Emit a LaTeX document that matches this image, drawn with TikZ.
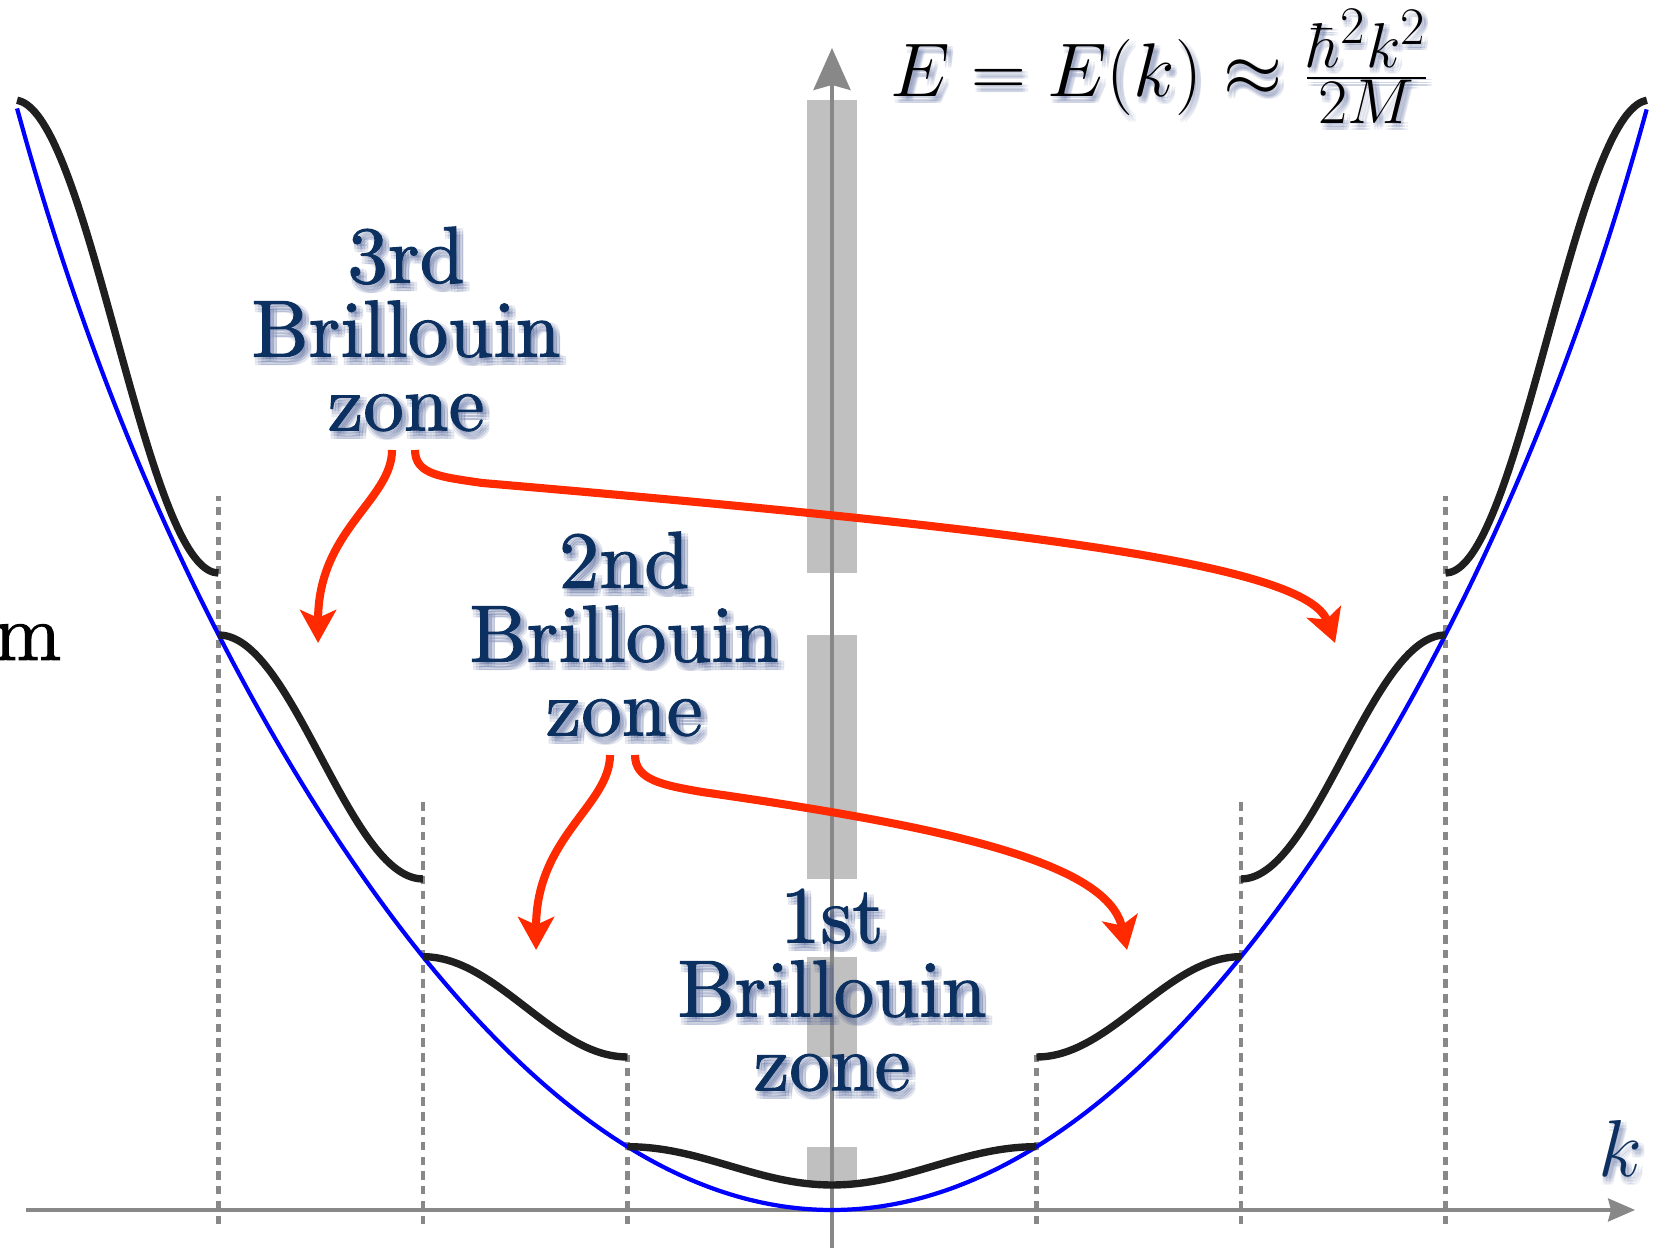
\documentclass[tikz,border=0pt]{standalone}
\usepackage{fontspec}
\usepackage{xcolor}
\usepackage{tikz}
\usetikzlibrary{arrows.meta}
\usetikzlibrary{calc}

\newfontfamily\zonefont{lmroman10-regular.otf}[FakeBold=1.2]
\definecolor{zoneblue}{RGB}{12,49,96}
\definecolor{shadeblue}{RGB}{60,80,140}
\definecolor{arrowred}{RGB}{255,42,0}
\definecolor{bandgray}{RGB}{192,192,192}
\definecolor{axisgray}{RGB}{136,136,136}

\tikzset{
  zonetext/.style={align=center, inner sep=0pt, text=zoneblue, font=\zonefont\fontsize{23}{21}\selectfont},
  mathtext/.style={inner sep=0pt, font=\fontsize{24.88}{28}\selectfont},
  eqtext/.style={mathtext, anchor=base west, scale=0.87},
  textshadow/.style={text=shadeblue, opacity=0.09},
  band/.style={line width=2.1pt, color=black!88},
  boundary/.style={axisgray, line width=1.3pt, dash pattern=on 2.4pt off 1.8pt},
  jump/.style={arrowred, line width=2.3pt, -{Stealth[length=0.33cm, width=0.36cm, inset=0.08cm]}},
}
\def\shadeoffsets{0.01/-0.02, 0.04/-0.02, 0.07/-0.02, 0.01/-0.05, 0.04/-0.05, 0.07/-0.05, 0.01/-0.08, 0.04/-0.08, 0.07/-0.08}

\begin{document}
\begin{tikzpicture}[x=2.045cm, y=1cm]
\useasboundingbox (-8.32cm,-0.38cm) rectangle (8.22cm,12.10cm);
% energy ranges of the bands
\fill[bandgray] (-0.122,0.25) rectangle (0.122,0.633);
\fill[bandgray] (-0.122,1.53) rectangle (0.122,2.533);
\fill[bandgray] (-0.122,3.31) rectangle (0.122,5.75);
\fill[bandgray] (-0.122,6.37) rectangle (0.122,11.10);
% axes
\coordinate (O) at (0,0);
\coordinate (kmin) at (-3.941,0);
\coordinate (kmax) at (3.927,0);
\coordinate (Emin) at (0,-0.40);
\coordinate (Emax) at (0,11.62);
\draw[axisgray, line width=1pt, -{Stealth[length=0.27cm, width=0.23cm, inset=0.03cm]}] (kmin) -- (kmax);
\draw[axisgray, line width=1.1pt, -{Stealth[length=0.42cm, width=0.37cm, inset=0.05cm]}] (Emin) -- (Emax);
% zone boundaries
\foreach \n/\top in {1/1.55, 2/4.08, 3/7.14} {
  \draw[boundary] (\n,-0.14) -- (\n,\top);
  \draw[boundary] (-\n,-0.14) -- (-\n,\top);
}
% free particle
\draw[blue, line width=1.2pt, domain=-3.985:3.985, samples=161, smooth] plot (\x, {0.633*\x*\x + 0.000978*(\x*\x/4)^5});
% bands
\draw[band, domain=-1:1, samples=60, smooth] plot (\x, {0.25 + 0.383*(1-cos(180*\x))/2});
\draw[band, domain=1:2, samples=40, smooth] plot (\x, {1.53 + 1.003*(1+cos(180*\x))/2});
\draw[band, domain=-2:-1, samples=40, smooth] plot (\x, {1.53 + 1.003*(1+cos(180*\x))/2});
\draw[band, domain=2:3, samples=40, smooth] plot (\x, {3.31 + 2.44*(1-cos(180*\x))/2});
\draw[band, domain=-3:-2, samples=40, smooth] plot (\x, {3.31 + 2.44*(1-cos(180*\x))/2});
\draw[band, domain=3:3.985, samples=40, smooth] plot (\x, {6.37 + 4.73*(1+cos(180*\x))/2});
\draw[band, domain=-3.985:-3, samples=40, smooth] plot (\x, {6.37 + 4.73*(1+cos(180*\x))/2});
% labels
\foreach \nm/\px/\py/\txt in {3/-2.083/8.81/3rd, 2/-1.017/5.76/2nd, 1/0/2.20/1st} {
  \foreach \dx/\dy [count=\i] in \shadeoffsets
    \node[zonetext, textshadow, xshift=\dx cm, yshift=\dy cm] (z\nm-sh\i) at (\px,\py) {\txt\\Brillouin\\zone};
  \node[zonetext] (z\nm) at (\px,\py) {\txt\\Brillouin\\zone};
}
\foreach \dx/\dy [count=\i] in \shadeoffsets
  \node[eqtext, textshadow, xshift=\dx cm, yshift=\dy cm] (eq-sh\i) at (0.284,11.13) {$E = E(k) \approx \frac{\hbar^2k^2}{2M}$};
\node[eqtext] (eq) at (0.284,11.13) {$E = E(k) \approx \frac{\hbar^2k^2}{2M}$};
\foreach \dx/\dy [count=\i] in \shadeoffsets
  \node[mathtext, textshadow, anchor=base, scale=0.924, xshift=\dx cm, yshift=\dy cm] (k-sh\i) at (3.853,0.33) {$k$};
\node[mathtext, text=zoneblue, anchor=base, scale=0.924] (klabel) at (3.853,0.33) {$k$};
\node[anchor=base east, inner sep=0pt, font=\zonefont\fontsize{23}{26}\selectfont] (mlabel) at (-3.765,5.50) {m};
% where the zones go
\coordinate (t3l) at (-2.513,5.67);
\coordinate (t3r) at (2.460,5.67);
\coordinate (t2l) at (-1.447,2.60);
\coordinate (t2r) at (1.443,2.60);
\draw[jump] ([xshift=-0.14cm,yshift=-0.18cm]z3.south) .. controls +(0,-0.5) and +(0,1.13) .. (t3l);
\draw[jump] ([xshift=0.09cm,yshift=-0.18cm]z3.south) .. controls +(0,-0.25) and +(-0.196,0.06) .. (-1.711,7.27) .. controls (0.978,6.80) and (2.323,6.45) .. (t3r);
\draw[jump] ([xshift=-0.14cm,yshift=-0.18cm]z2.south) .. controls +(0,-0.5) and +(0,1.13) .. (t2l);
\draw[jump] ([xshift=0.11cm,yshift=-0.18cm]z2.south) .. controls +(0,-0.25) and +(-0.195,0.07) .. (-0.636,4.18) .. controls (0.489,3.85) and (1.345,3.50) .. (t2r);
\end{tikzpicture}
\end{document}
